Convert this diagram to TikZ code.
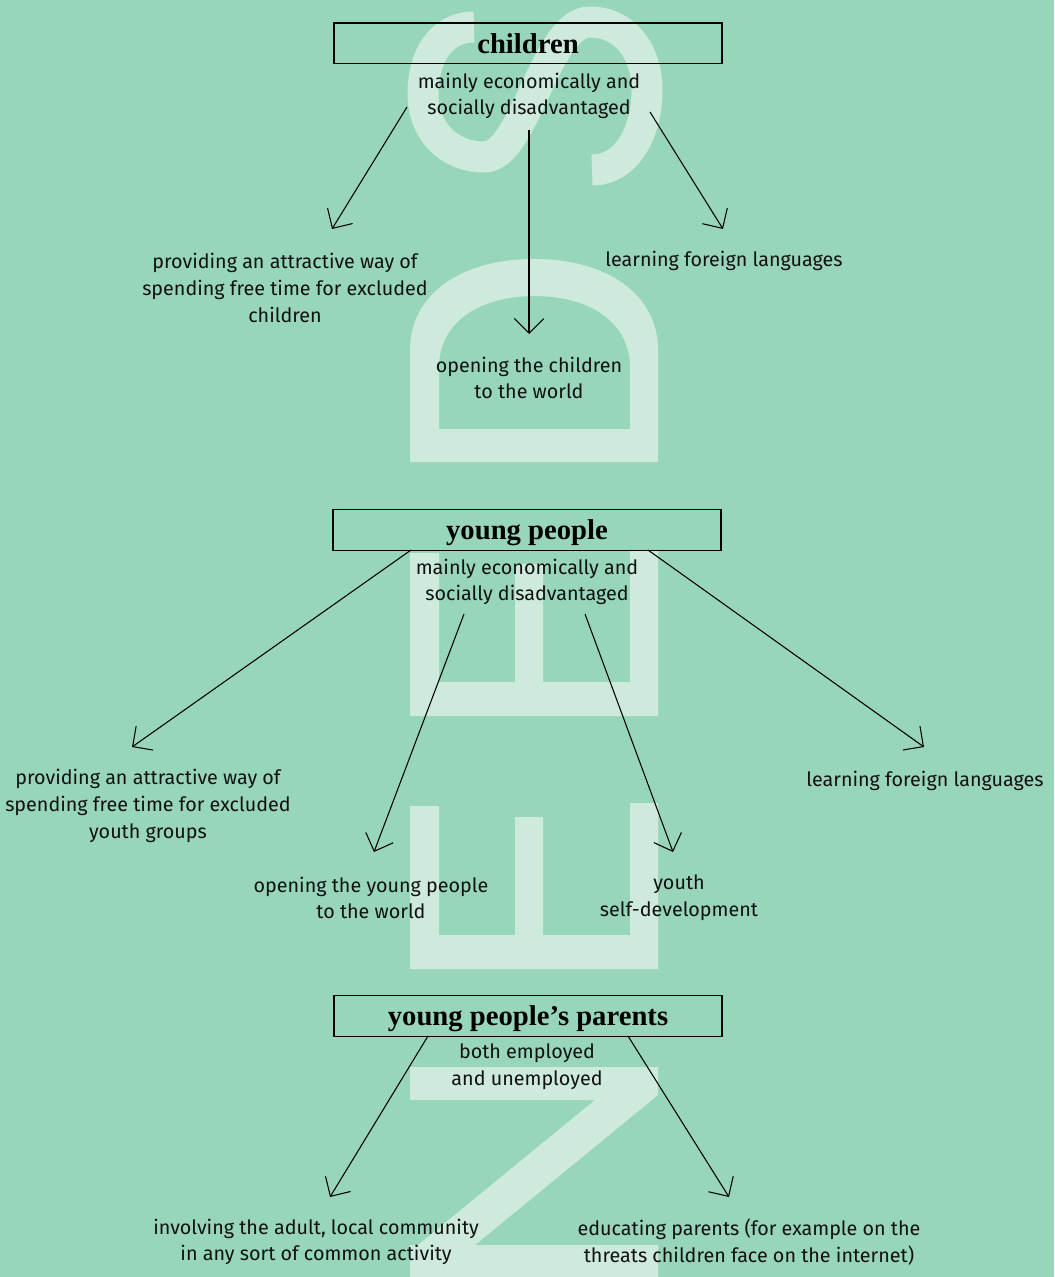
\documentclass[tikz,border=0pt]{standalone}
\usepackage{fontspec}
\setmainfont{Fira Sans}
\newfontfamily\titlefont{Liberation Serif}
\usetikzlibrary{arrows.meta}
\definecolor{bg}{RGB}{152,214,187}
\definecolor{letter}{RGB}{205,234,220}
\definecolor{ink}{RGB}{17,17,17}
\begin{document}
\begin{tikzpicture}[x=0.75pt,y=-0.75pt,
  body/.style={align=center,font=\fontsize{14.8}{20}\selectfont,inner sep=0pt,text=ink},
  ttl/.style={font=\titlefont\bfseries\fontsize{21.5}{24}\selectfont,inner sep=0pt,anchor=base},
  hbox/.style={draw=black,line width=1pt,minimum width=291pt,minimum height=30.5pt,inner sep=0pt},
  conn/.style={-{Straight Barb[length=11pt,width=22pt]},line width=0.8pt}]
\fill[bg] (0,0) rectangle (1054,1277);
\useasboundingbox (0,0) rectangle (1054,1277);
% big letters NEEDS
\draw[letter,line width=23.25pt] (474,27) .. controls (440,27) and (423,58) .. (423,94)
  .. controls (423,130) and (448,157) .. (484,157)
  .. controls (525,157) and (545,22) .. (590,22)
  .. controls (625,22) and (647,52) .. (647,90)
  .. controls (647,135) and (625,170) .. (592,170);
\fill[letter,even odd rule] (410,462) -- (410,350) .. controls (410,295) and (460,259) .. (534,259)
  .. controls (608,259) and (658,295) .. (658,350) -- (658,462) -- cycle
  (439,429) -- (439,367) .. controls (439,324) and (477,296) .. (534.5,296)
  .. controls (592,296) and (630,324) .. (630,367) -- (630,429) -- cycle;
\fill[letter] (410,553) -- (439,553) -- (439,682) -- (515,682) -- (515,564) -- (543,564) -- (543,682)
  -- (630,682) -- (630,551) -- (658,551) -- (658,716) -- (410,716) -- cycle;
\fill[letter] (410,806) -- (439,806) -- (439,935) -- (515,935) -- (515,817) -- (543,817) -- (543,935)
  -- (630,935) -- (630,803) -- (658,803) -- (658,969) -- (410,969) -- cycle;
\fill[letter] (410,1067) -- (658,1067) -- (658,1095) -- (475,1245) -- (658,1245) -- (658,1290)
  -- (410,1290) -- (410,1245) -- (418,1245) -- (595,1100) -- (410,1100) -- cycle;
% children
\node[hbox] (cbox) at (528,43.5) {};
\node[ttl] (ctitle) at (528,53.5) {children};
\node[body] (csub) at (529,96) {mainly economically and\\socially disadvantaged};
\node[body] (cl) at (285,288) {providing an attractive way of\\spending free time for excluded\\children};
\node[body] (cr) at (724,261) {learning foreign languages};
\node[body] (cm) at (529,378) {opening the children\\to the world};
\coordinate (c1s) at (407,107); \coordinate (c1e) at (332,229);
\coordinate (c2s) at (529,130); \coordinate (c2e) at (529,334);
\coordinate (c3s) at (650,112); \coordinate (c3e) at (723,229);
\draw[conn] (c1s) -- (c1e);
\draw[conn] (c2s) -- (c2e);
\draw[conn] (c3s) -- (c3e);
% young people
\node[hbox] (ybox) at (527,530) {};
\node[ttl] (ytitle) at (527,539.5) {young people};
\node[body] (ysub) at (527,582) {mainly economically and\\socially disadvantaged};
\node[body] (yl) at (148,806) {providing an attractive way of\\spending free time for excluded\\youth groups};
\node[body] (yr) at (925,781) {learning foreign languages};
\node[body] (ym1) at (371,898) {opening the young people\\to the world};
\node[body] (ym2) at (679,898) {youth\\self-development};
\coordinate (y1s) at (411,550); \coordinate (y1e) at (132,747);
\coordinate (y2s) at (464,614); \coordinate (y2e) at (374,852);
\coordinate (y3s) at (585,614); \coordinate (y3e) at (673,852);
\coordinate (y4s) at (648,550); \coordinate (y4e) at (924,747);
\draw[conn] (y1s) -- (y1e);
\draw[conn] (y2s) -- (y2e);
\draw[conn] (y3s) -- (y3e);
\draw[conn] (y4s) -- (y4e);
% parents
\node[hbox] (pbox) at (528,1016) {};
\node[ttl] (ptitle) at (528,1025.5) {young people’s parents};
\node[body] (psub) at (527,1067) {both employed\\and unemployed};
\node[body] (pl) at (316,1242) {involving the adult, local community\\in any sort of common activity};
\node[body] (pr) at (749,1242) {educating parents (for example on the\\threats children face on the internet)};
\coordinate (p1s) at (428,1036); \coordinate (p1e) at (330,1197);
\coordinate (p2s) at (628,1036); \coordinate (p2e) at (729,1197);
\draw[conn] (p1s) -- (p1e);
\draw[conn] (p2s) -- (p2e);
\end{tikzpicture}
\end{document}
